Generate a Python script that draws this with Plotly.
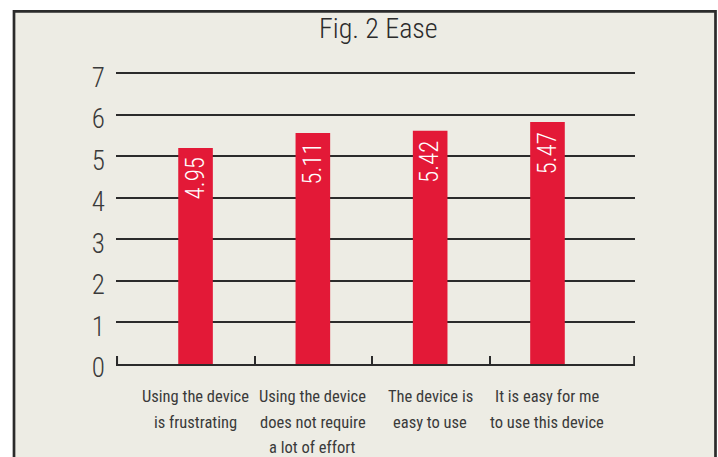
import plotly.graph_objects as go

# ---- data ----
categories = [
    "Using the device<br>is frustrating",
    "Using the device<br>does not require<br>a lot of effort",
    "The device is<br>easy to use",
    "It is easy for me<br>to use this device",
]
bar_heights = [5.20, 5.56, 5.61, 5.82]   # drawn heights
bar_labels = ["4.95", "5.11", "5.42", "5.47"]  # printed value labels
y_ticks = [0, 1, 2, 3, 4, 5, 6, 7]
title_text = "Fig. 2 Ease"

FONT = "Roboto Condensed, Liberation Sans, Arial, sans-serif"
BAR_COLOR = "#E31937"
BG = "#EDECE4"
INK = "#2b2b2b"
TXT = "#3a3a3a"
WEIGHT = 300

W, H = 718, 457
L, R, T, B = 116, 83, 71, 93
pw, ph = W - L - R, H - T - B

def px_x(p):
    return (p - L) / pw

def px_y(p):
    return (H - B - p) / ph

xs = list(range(len(categories)))
x_lo, x_hi = -0.678, 3.746

fig = go.Figure()
fig.add_trace(go.Bar(
    x=xs, y=bar_heights, width=0.295,
    marker=dict(color=BAR_COLOR, line=dict(width=0)),
    hoverinfo="skip",
))

annotations = []
# value labels inside bars (rotated)
for xi, h, lab in zip(xs, bar_heights, bar_labels):
    annotations.append(dict(
        x=xi, y=h, xref="x", yref="y", text=lab, showarrow=False,
        textangle=-90, xanchor="center", yanchor="top", yshift=-8,
        font=dict(family=FONT, size=25, color="white", weight=WEIGHT),
    ))
# category labels, one line at a time
for xi, cat in zip(xs, categories):
    for k, line in enumerate(cat.split("<br>")):
        annotations.append(dict(
            x=xi, y=px_y(397 + 25 * k), xref="x", yref="paper", text=line,
            showarrow=False, xanchor="center", yanchor="middle",
            font=dict(family=FONT, size=16.5, color=TXT, weight=400),
        ))
# title
annotations.append(dict(
    x=px_x(378), y=px_y(28.5), xref="paper", yref="paper", text=title_text,
    showarrow=False, xanchor="center", yanchor="middle",
    font=dict(family=FONT, size=28, color=INK, weight=WEIGHT),
))

shapes = [dict(
    type="rect", xref="paper", yref="paper", layer="below",
    x0=px_x(14), x1=px_x(715.5), y0=px_y(11.3), y1=px_y(480),
    fillcolor=BG, line=dict(color=INK, width=2.7),
)]
# end tick marks of the category axis
for xe in (x_lo + 0.008, x_hi - 0.006):
    shapes.append(dict(
        type="line", xref="x", yref="paper", layer="above",
        x0=xe, x1=xe, y0=0, y1=8 / ph,
        line=dict(color=INK, width=2.2),
    ))

fig.update_layout(
    width=W, height=H,
    margin=dict(l=L, r=R, t=T, b=B, pad=0),
    paper_bgcolor="white", plot_bgcolor="rgba(0,0,0,0)",
    showlegend=False,
    annotations=annotations, shapes=shapes,
    font=dict(family=FONT, color=INK),
)
fig.update_xaxes(
    range=[x_lo, x_hi], showgrid=False, zeroline=False,
    showline=True, linecolor=INK, linewidth=2.2,
    tickmode="array", tickvals=[0.508, 1.506, 2.507],
    ticktext=["", "", ""],
    ticks="inside", ticklen=8, tickwidth=2.2, tickcolor=INK,
    fixedrange=True,
)
fig.update_yaxes(
    range=[0, 7.05], tickmode="array", tickvals=y_ticks,
    ticktext=[str(v) for v in y_ticks],
    showgrid=True, gridcolor=INK, gridwidth=2.2, zeroline=False,
    showline=False, ticks="", ticklabelstandoff=10, ticklabelshift=4,
    tickfont=dict(family=FONT, size=27, color=TXT, weight=WEIGHT),
    fixedrange=True,
)

fig.write_html("out.html", config={"displayModeBar": False},
               post_script="document.body.style.margin='0';")
